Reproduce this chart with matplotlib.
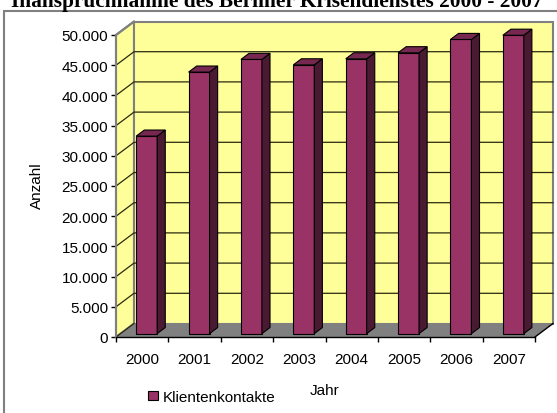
import matplotlib
matplotlib.use("Agg")
import matplotlib.pyplot as plt
from matplotlib.patches import Polygon, Rectangle
from matplotlib.lines import Line2D

plt.rcParams['font.family'] = ['Liberation Sans', 'DejaVu Sans']

# Data
years = ['2000', '2001', '2002', '2003', '2004', '2005', '2006', '2007']
klientenkontakte = [32700, 43300, 45400, 44500, 45500, 46500, 48700, 49400]
y_ticks = list(range(0, 50001, 5000))
title = 'Inanspruchnahme des Berliner Krisendienstes 2000 - 2007'
series_name = 'Klientenkontakte'

W, H = 557, 414
fig = plt.figure(figsize=(W / 100, H / 100), dpi=100)
fig.patch.set_facecolor('white')

# front plane of the chart box (pixels)
x0, x1, yb, yt = 116, 535, 338, 36
ax = fig.add_axes([x0 / W, (H - yb) / H, (x1 - x0) / W, (yb - yt) / H])
ax.patch.set_visible(False)
n = len(years)
ymax = 50000
ax.set_xlim(0, n)
ax.set_ylim(0, ymax)

# oblique depth offset of the back wall in data units
px_x = n / (x1 - x0)
px_y = ymax / (yb - yt)
DX = 18 * px_x
DY = 13.5 * px_y

wall_c = '#FFFF99'
floor_c = '#808080'
edge_gray = '#808080'

# side wall, back wall, floor
ax.add_patch(Polygon([(0, 0), (DX, DY), (DX, ymax + DY), (0, ymax)],
                     closed=True, facecolor=wall_c, edgecolor=edge_gray,
                     lw=1.5, clip_on=False, zorder=1))
ax.add_patch(Rectangle((DX, DY), n, ymax, facecolor=wall_c,
                       edgecolor=edge_gray, lw=1.5, clip_on=False, zorder=1))
ax.add_patch(Polygon([(0, 0), (n, 0), (n + DX, DY), (DX, DY)], closed=True,
                     facecolor=floor_c, edgecolor='none', clip_on=False, zorder=1))

# gridlines on side wall and back wall
for t in y_ticks[1:-1]:
    ax.add_line(Line2D([0, DX, n + DX], [t, t + DY, t + DY], color='#2a2a10',
                       lw=0.9, clip_on=False, zorder=2))
ax.add_line(Line2D([0, DX], [0, DY], color='#2a2a10', lw=0.9, clip_on=False, zorder=2))
ax.add_line(Line2D([0, DX], [ymax, ymax + DY], color=edge_gray, lw=1.5,
                   clip_on=False, zorder=2))
# floor right edge
ax.add_line(Line2D([n, n + DX], [0, DY], color='black', lw=1, clip_on=False, zorder=3))

# 3D bars
f0, fd = 0.25, 0.45
bw = 0.40
ox, oy = f0 * DX, f0 * DY
bdx, bdy = fd * DX, fd * DY
front_c, side_c, top_c = '#993366', '#4A1A33', '#772850'
xs = [i + 0.5 - bw / 2 + ox for i in range(n)]
ax.bar(xs, klientenkontakte, width=bw, bottom=oy, align='edge', color=front_c,
       edgecolor='black', lw=0.8, zorder=4, clip_on=False, label=series_name)
for xl, v in zip(xs, klientenkontakte):
    xr = xl + bw
    top = oy + v
    ax.add_patch(Polygon([(xr, oy), (xr + bdx, oy + bdy), (xr + bdx, top + bdy), (xr, top)],
                         closed=True, facecolor=side_c, edgecolor='black', lw=0.8,
                         clip_on=False, zorder=4))
    ax.add_patch(Polygon([(xl, top), (xl + bdx, top + bdy), (xr + bdx, top + bdy), (xr, top)],
                         closed=True, facecolor=top_c, edgecolor='black', lw=0.8,
                         clip_on=False, zorder=4))

# axes
for s in ('top', 'right'):
    ax.spines[s].set_visible(False)
ax.spines['left'].set_color(edge_gray)
ax.spines['left'].set_linewidth(1.5)
ax.spines['bottom'].set_color('black')
ax.spines['bottom'].set_linewidth(1)
ax.spines['left'].set_zorder(5)
ax.spines['bottom'].set_zorder(5)

ax.set_yticks(y_ticks)
ax.set_yticklabels([f"{v:,}".replace(',', '.') for v in y_ticks])
ax.tick_params(axis='y', length=3.6, width=1, color='black', labelsize=11, pad=2)

ax.set_xticks([i + 0.5 for i in range(n)])
ax.set_xticklabels(years)
ax.set_xticks(list(range(n + 1)), minor=True)
ax.tick_params(axis='x', which='major', length=0, labelsize=11, pad=11)
ax.tick_params(axis='x', which='minor', length=3.6, width=1, color='black')

fig.text(37 / W, 1 - 186 / H, 'Anzahl', rotation=90, ha='center', va='center', fontsize=11)
fig.text(325 / W, 1 - 391 / H, 'Jahr', ha='center', va='center', fontsize=11)

leg = ax.legend(loc='center left', bbox_to_anchor=(148 / W, 1 - 398 / H),
                bbox_transform=fig.transFigure, frameon=False, fontsize=11,
                handlelength=0.65, handleheight=0.6, handletextpad=0.3,
                borderpad=0, borderaxespad=0)
for h in leg.legend_handles:
    h.set_edgecolor('black')
    h.set_linewidth(0.8)

# outer chart frame
fig.add_artist(Rectangle((4 / W, -0.05), 1.1, 1 - 12 / H + 0.05, transform=fig.transFigure,
                         facecolor='none', edgecolor=edge_gray, lw=1.5))

# heading, partly cut off at the top edge
fig.text(276.5 / W, 1 - 7 / H, title, ha='center', va='baseline', fontsize=15.4,
         fontweight='bold', family=['Liberation Serif', 'DejaVu Serif'])

fig.savefig('out.png', dpi=100)
